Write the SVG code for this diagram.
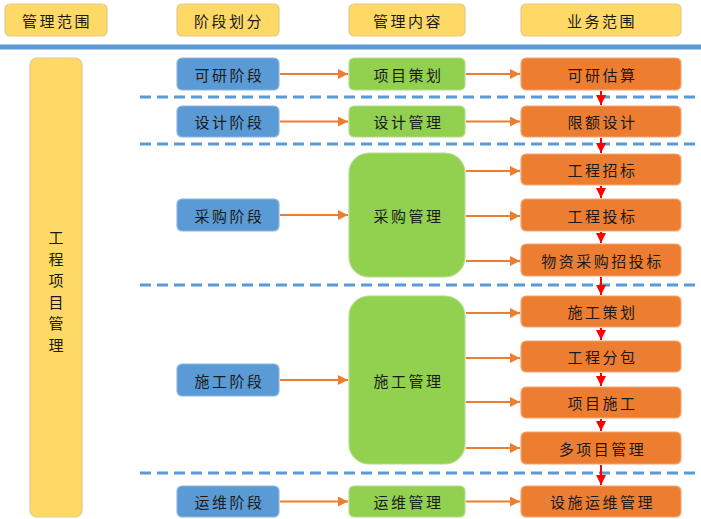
<svg xmlns="http://www.w3.org/2000/svg" width="701" height="519" viewBox="0 0 701 519">
<style>
text{font-family:"Noto Sans CJK SC","Noto Sans",sans-serif;font-size:15px;fill:#1a1a1a;text-anchor:middle;dominant-baseline:central;letter-spacing:2.5px}
.hdr{fill:#ffd966;stroke:#e6c98c;stroke-width:1.2}
.blue{fill:#5b9bd5;stroke:#8fb6e0;stroke-width:1.2}
.green{fill:#92d050;stroke:#b5dc8e;stroke-width:1.2}
.orange{fill:#ed7d31;stroke:#f2a877;stroke-width:1.2}
.dash{stroke:#5b9bd5;stroke-width:3;stroke-dasharray:11 6;fill:none}
.oa{stroke:#ed7d31;stroke-width:2;fill:none;marker-end:url(#ao)}
.ra{stroke:#ff0000;stroke-width:2;fill:none;marker-end:url(#ar)}
</style>
<defs>
<marker id="ao" viewBox="0 0 10 10" refX="10" refY="5" markerWidth="5" markerHeight="5" orient="auto" markerUnits="strokeWidth"><path d="M0,0L10,5L0,10z" fill="#ed7d31"/></marker>
<marker id="ar" viewBox="0 0 10 10" refX="10" refY="5" markerWidth="5" markerHeight="5" orient="auto" markerUnits="strokeWidth"><path d="M0,0L10,5L0,10z" fill="#ff0000"/></marker>
</defs>
<rect width="701" height="519" fill="#ffffff"/>
<!-- headers -->
<g id="h1"><rect class="hdr" x="5" y="4" width="102" height="32" rx="5"/><text x="57" y="20">管理范围</text></g>
<g id="h2"><rect class="hdr" x="177" y="4" width="102" height="32" rx="5"/><text x="229" y="20">阶段划分</text></g>
<g id="h3"><rect class="hdr" x="349" y="4" width="116" height="32" rx="5"/><text x="408" y="20">管理内容</text></g>
<g id="h4"><rect class="hdr" x="521" y="4" width="160" height="32" rx="5"/><text x="602" y="20">业务范围</text></g>
<line x1="0" y1="47" x2="701" y2="47" stroke="#5b9bd5" stroke-width="5"/>
<!-- dashed separators -->
<g id="separators">
<line class="dash" x1="140" y1="97" x2="701" y2="97"/>
<line class="dash" x1="140" y1="144" x2="701" y2="144"/>
<line class="dash" x1="140" y1="285" x2="701" y2="285"/>
<line class="dash" x1="140" y1="473" x2="701" y2="473"/>
</g>
<!-- left -->
<g id="scope"><rect class="hdr" x="30" y="58" width="52" height="459" rx="7"/>
<text x="57" y="235" style="letter-spacing:0"><tspan x="56" y="236">工</tspan><tspan x="56" y="257.5">程</tspan><tspan x="56" y="279">项</tspan><tspan x="56" y="300.5">目</tspan><tspan x="56" y="322">管</tspan><tspan x="56" y="343.5">理</tspan></text></g>
<!-- stages -->
<g id="s1"><rect class="blue" x="177" y="58" width="102" height="32" rx="5"/><text x="229.5" y="74">可研阶段</text></g>
<g id="s2"><rect class="blue" x="177" y="106" width="102" height="31" rx="5"/><text x="229.5" y="121.5">设计阶段</text></g>
<g id="s3"><rect class="blue" x="177" y="199" width="102" height="32" rx="5"/><text x="229.5" y="215">采购阶段</text></g>
<g id="s4"><rect class="blue" x="177" y="364" width="102" height="32" rx="5"/><text x="229.5" y="380">施工阶段</text></g>
<g id="s5"><rect class="blue" x="177" y="486" width="102" height="31" rx="5"/><text x="229.5" y="501.5">运维阶段</text></g>
<!-- management -->
<g id="m1"><rect class="green" x="349" y="58" width="116" height="32" rx="5"/><text x="408.5" y="74">项目策划</text></g>
<g id="m2"><rect class="green" x="349" y="106" width="116" height="31" rx="5"/><text x="408.5" y="121.5">设计管理</text></g>
<g id="m3"><rect class="green" x="349" y="153" width="116" height="124" rx="20"/><text x="408.5" y="215">采购管理</text></g>
<g id="m4"><rect class="green" x="349" y="296" width="116" height="168" rx="20"/><text x="408.5" y="380">施工管理</text></g>
<g id="m5"><rect class="green" x="349" y="486" width="116" height="31" rx="5"/><text x="408.5" y="501.5">运维管理</text></g>
<!-- business -->
<g id="b1"><rect class="orange" x="521" y="58" width="160" height="32" rx="5"/><text x="602.5" y="74">可研估算</text></g>
<g id="b2"><rect class="orange" x="521" y="106" width="160" height="31" rx="5"/><text x="602.5" y="121.5">限额设计</text></g>
<g id="b3"><rect class="orange" x="521" y="154" width="160" height="31" rx="5"/><text x="602.5" y="169.5">工程招标</text></g>
<g id="b4"><rect class="orange" x="521" y="199" width="160" height="32" rx="5"/><text x="602.5" y="215">工程投标</text></g>
<g id="b5"><rect class="orange" x="521" y="244" width="160" height="32" rx="5"/><text x="602.5" y="260">物资采购招投标</text></g>
<g id="b6"><rect class="orange" x="521" y="296" width="160" height="31" rx="5"/><text x="602.5" y="311.5">施工策划</text></g>
<g id="b7"><rect class="orange" x="521" y="341" width="160" height="31" rx="5"/><text x="602.5" y="356.5">工程分包</text></g>
<g id="b8"><rect class="orange" x="521" y="387" width="160" height="31" rx="5"/><text x="602.5" y="402.5">项目施工</text></g>
<g id="b9"><rect class="orange" x="521" y="432" width="160" height="32" rx="5"/><text x="602.5" y="448">多项目管理</text></g>
<g id="b10"><rect class="orange" x="521" y="486" width="160" height="31" rx="5"/><text x="602.5" y="501.5">设施运维管理</text></g>
<!-- connectors -->
<g id="connectors">
<line class="oa" x1="280" y1="74" x2="348" y2="74"/>
<line class="oa" x1="280" y1="121.5" x2="348" y2="121.5"/>
<line class="oa" x1="280" y1="215" x2="348" y2="215"/>
<line class="oa" x1="280" y1="380" x2="348" y2="380"/>
<line class="oa" x1="280" y1="501.5" x2="348" y2="501.5"/>
<line class="oa" x1="466" y1="74" x2="520" y2="74"/>
<line class="oa" x1="466" y1="121.5" x2="520" y2="121.5"/>
<line class="oa" x1="466" y1="171" x2="520" y2="171"/>
<line class="oa" x1="466" y1="216" x2="520" y2="216"/>
<line class="oa" x1="466" y1="261" x2="520" y2="261"/>
<line class="oa" x1="466" y1="313" x2="520" y2="313"/>
<line class="oa" x1="466" y1="358" x2="520" y2="358"/>
<line class="oa" x1="466" y1="402" x2="520" y2="402"/>
<line class="oa" x1="466" y1="448" x2="520" y2="448"/>
<line class="oa" x1="466" y1="501.5" x2="520" y2="501.5"/>
<line class="ra" x1="601" y1="91" x2="601" y2="105"/>
<line class="ra" x1="601" y1="138" x2="601" y2="153"/>
<line class="ra" x1="601" y1="186" x2="601" y2="198"/>
<line class="ra" x1="601" y1="232" x2="601" y2="243"/>
<line class="ra" x1="601" y1="277" x2="601" y2="295"/>
<line class="ra" x1="601" y1="328" x2="601" y2="340"/>
<line class="ra" x1="601" y1="373" x2="601" y2="386"/>
<line class="ra" x1="601" y1="419" x2="601" y2="431"/>
<line class="ra" x1="601" y1="465" x2="601" y2="485"/>
</g>
</svg>
